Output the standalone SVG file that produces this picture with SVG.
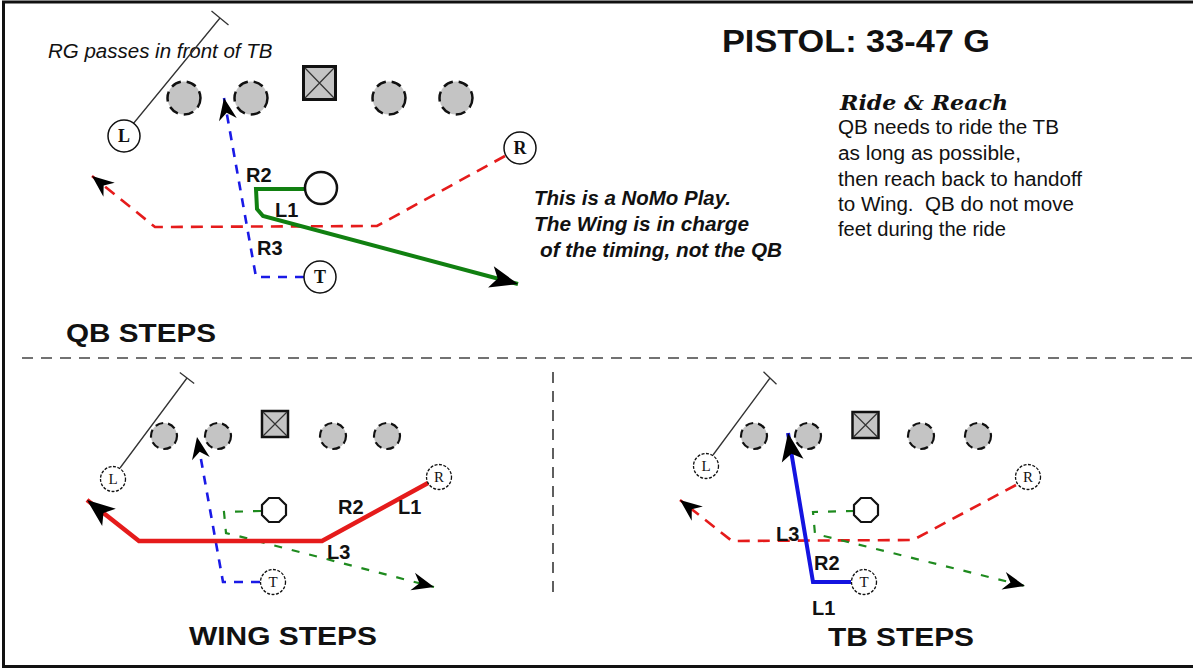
<svg xmlns="http://www.w3.org/2000/svg" width="1193" height="668" viewBox="0 0 1193 668">
<style>
text{font-family:"Liberation Sans",Arial,sans-serif;fill:#111}
.lbl{font-weight:bold;font-size:20px}
.hd{font-weight:bold;font-size:26px}
.note{font-style:italic;font-weight:bold;font-size:19.5px}
.body{font-size:19.5px}
.pl{font-family:"Liberation Serif",serif;font-weight:bold;font-size:18px;text-anchor:middle}
.pls{font-family:"Liberation Serif",serif;font-size:15px;text-anchor:middle}
.dl{fill:#c4c4c4;stroke:#111;stroke-width:2.5;stroke-dasharray:10 6}
.dls{fill:#c4c4c4;stroke:#111;stroke-width:2.2;stroke-dasharray:8 5}
.ctr{fill:#c4c4c4;stroke:#111}
.x{stroke:#333;stroke-width:1.2}
.p{fill:#fff;stroke:#111;stroke-width:1.5}
.ps{fill:#fff;stroke:#111;stroke-width:1.3;stroke-dasharray:3 1.5}
.qb{fill:#fff;stroke:#111;stroke-width:2.5}
.blk{fill:none;stroke:#333;stroke-width:1.3}
.rd{fill:none;stroke:#e51b1b;stroke-width:2.6;stroke-dasharray:12 8}
.rs{fill:none;stroke:#e51b1b;stroke-width:4.5}
.bd{fill:none;stroke:#1a1ae6;stroke-width:2.6;stroke-dasharray:9 8}
.bs{fill:none;stroke:#1414e0;stroke-width:4}
.gs{fill:none;stroke:#118011;stroke-width:4}
.gd{fill:none;stroke:#1e8a1e;stroke-width:2.2;stroke-dasharray:8 10}
.sep{fill:none;stroke:#444;stroke-width:1.7;stroke-dasharray:11 8}
</style>
<defs>
<marker id="ab" viewBox="-30 -12 32 24" refX="0" refY="0" markerWidth="32" markerHeight="24" markerUnits="userSpaceOnUse" orient="auto">
<path d="M0,0 L-28,-11 L-21,0 L-28,11 Z" fill="#000"/>
</marker>
<marker id="as" viewBox="-24 -10 26 20" refX="0" refY="0" markerWidth="26" markerHeight="20" markerUnits="userSpaceOnUse" orient="auto">
<path d="M0,0 L-22,-9 L-15,0 L-22,9 Z" fill="#000"/>
</marker>
<polygon id="oct" points="12,5 5,12 -5,12 -12,5 -12,-5 -5,-12 5,-12 12,-5"/>
</defs>
<rect width="1193" height="668" fill="#fff"/>
<rect x="3.5" y="2" width="1200" height="664.5" fill="none" stroke="#111" stroke-width="3"/>

<!-- separators -->
<g id="separators">
<line class="sep" x1="22" y1="358" x2="1193" y2="358"/>
<line class="sep" x1="553" y1="372" x2="553" y2="594"/>
</g>

<!-- texts -->
<g id="texts">
<text x="722" y="52" font-weight="bold" font-size="31" textLength="268" lengthAdjust="spacingAndGlyphs">PISTOL: 33-47 G</text>
<text x="48" y="58" font-style="italic" font-size="20.5" fill="#222">RG passes in front of TB</text>
<text x="840" y="110" style="font-family:'DejaVu Serif',serif;font-weight:bold;font-style:italic;font-size:21px" textLength="168" lengthAdjust="spacingAndGlyphs">Ride &amp; Reach</text>
<text class="body" x="838" y="134" textLength="221" lengthAdjust="spacingAndGlyphs">QB needs to ride the TB</text>
<text class="body" x="838" y="160" textLength="183" lengthAdjust="spacingAndGlyphs">as long as possible,</text>
<text class="body" x="838" y="186" textLength="244" lengthAdjust="spacingAndGlyphs">then reach back to handoff</text>
<text class="body" x="838" y="211" textLength="236" lengthAdjust="spacingAndGlyphs" xml:space="preserve">to Wing.  QB do not move</text>
<text class="body" x="838" y="236" textLength="168" lengthAdjust="spacingAndGlyphs">feet during the ride</text>
<text class="note" x="534" y="205" textLength="197" lengthAdjust="spacingAndGlyphs">This is a NoMo Play.</text>
<text class="note" x="534" y="231" textLength="215" lengthAdjust="spacingAndGlyphs">The Wing is in charge</text>
<text class="note" x="540" y="257" textLength="242" lengthAdjust="spacingAndGlyphs">of the timing, not the QB</text>
<text class="hd" x="66" y="342" textLength="150" lengthAdjust="spacingAndGlyphs">QB STEPS</text>
<text class="hd" x="189" y="645" textLength="188" lengthAdjust="spacingAndGlyphs">WING STEPS</text>
<text class="hd" x="828" y="646" textLength="146" lengthAdjust="spacingAndGlyphs">TB STEPS</text>
</g>

<!-- connectors -->
<g id="connectors">
<!-- top diagram -->
<path class="blk" d="M133,124 L220,18 M211.5,11 L228.5,25"/>
<path class="rd" d="M505,156 L377,226 L155,227 L92,176" marker-end="url(#as)"/>
<path class="bd" d="M304,277 L256,277 L224,98" marker-end="url(#as)"/>
<path class="gs" d="M305,189 L256,189 L257,209 L263,216 L518,284" marker-end="url(#ab)"/>
<!-- bottom-left -->
<path class="blk" d="M120,468 L187,378 M179.8,372.6 L194.2,383.4"/>
<path class="bd" d="M260,582 L223,582 L197,437" marker-end="url(#as)"/>
<path class="gd" d="M261,511 L224,512 L226,533 L238,536 L434,587" marker-end="url(#as)"/>
<path class="rs" d="M428,483 L322,541 L139,541 L87,500" marker-end="url(#ab)"/>
<!-- bottom-right -->
<path class="blk" d="M713,455 L770,378 M763.5,371.8 L776.5,384.2"/>
<path class="rd" d="M1016,485 L913,540 L732,541 L680,500" marker-end="url(#as)"/>
<path class="gd" d="M854,511 L813,512 L815,534 L828,537 L1025,586" marker-end="url(#as)"/>
<path class="bs" d="M851,582 L813,582 L788,433" marker-end="url(#ab)"/>
</g>

<!-- top diagram nodes -->
<g id="top-d1"><circle class="dl" cx="184" cy="98" r="16.5"/></g>
<g id="top-d2"><circle class="dl" cx="251" cy="98" r="16.5"/></g>
<g id="top-c"><rect class="ctr" x="303.5" y="66.5" width="32" height="33" stroke-width="3"/><path class="x" d="M305,68 L334,98 M334,68 L305,98"/></g>
<g id="top-d3"><circle class="dl" cx="389" cy="98" r="16.5"/></g>
<g id="top-d4"><circle class="dl" cx="456" cy="98" r="16.5"/></g>
<g id="top-L"><circle class="p" cx="124" cy="136" r="16"/><text class="pl" x="124" y="142">L</text></g>
<g id="top-R"><circle class="p" cx="520" cy="148" r="16"/><text class="pl" x="520" y="154">R</text></g>
<g id="top-QB"><circle class="qb" cx="321" cy="188" r="16"/></g>
<g id="top-T"><circle class="p" cx="320" cy="277" r="16"/><text class="pl" x="320" y="283">T</text></g>
<g id="top-labels">
<text class="lbl" x="246" y="182">R2</text>
<text class="lbl" x="275" y="217">L1</text>
<text class="lbl" x="257" y="255">R3</text>
</g>

<!-- bottom-left nodes -->
<g id="bl-d1"><circle class="dls" cx="164" cy="436" r="13"/></g>
<g id="bl-d2"><circle class="dls" cx="218" cy="436" r="13"/></g>
<g id="bl-c"><rect class="ctr" x="262" y="411" width="26" height="26" stroke-width="2.5"/><path class="x" d="M263,412 L287,436 M287,412 L263,436"/></g>
<g id="bl-d3"><circle class="dls" cx="333" cy="436" r="13"/></g>
<g id="bl-d4"><circle class="dls" cx="387" cy="436" r="13"/></g>
<g id="bl-L"><circle class="ps" cx="113" cy="479" r="12.5"/><text class="pls" x="113" y="484">L</text></g>
<g id="bl-R"><circle class="ps" cx="439" cy="477" r="12.5"/><text class="pls" x="439" y="482">R</text></g>
<g id="bl-QB"><use href="#oct" x="274" y="510" fill="#fff" stroke="#111" stroke-width="2.2"/></g>
<g id="bl-T"><circle class="ps" cx="273" cy="582" r="12.5"/><text class="pls" x="273" y="587">T</text></g>
<g id="bl-labels">
<text class="lbl" x="338" y="514">R2</text>
<text class="lbl" x="398" y="514">L1</text>
<text class="lbl" x="327" y="559">L3</text>
</g>

<!-- bottom-right nodes -->
<g id="br-d1"><circle class="dls" cx="754" cy="436" r="13"/></g>
<g id="br-d2"><circle class="dls" cx="808" cy="436" r="13"/></g>
<g id="br-c"><rect class="ctr" x="852.5" y="412" width="26" height="26" stroke-width="2.5"/><path class="x" d="M853.5,413 L877.5,437 M877.5,413 L853.5,437"/></g>
<g id="br-d3"><circle class="dls" cx="921" cy="436" r="13"/></g>
<g id="br-d4"><circle class="dls" cx="978" cy="436" r="13"/></g>
<g id="br-L"><circle class="ps" cx="706" cy="466" r="12.5"/><text class="pls" x="706" y="471">L</text></g>
<g id="br-R"><circle class="ps" cx="1028" cy="477" r="12.5"/><text class="pls" x="1028" y="482">R</text></g>
<g id="br-QB"><use href="#oct" x="866" y="510" fill="#fff" stroke="#111" stroke-width="2.2"/></g>
<g id="br-T"><circle class="ps" cx="864" cy="582" r="12.5"/><text class="pls" x="864" y="587">T</text></g>
<g id="br-labels">
<text class="lbl" x="776" y="541">L3</text>
<text class="lbl" x="814" y="570">R2</text>
<text class="lbl" x="812" y="615">L1</text>
</g>
</svg>
